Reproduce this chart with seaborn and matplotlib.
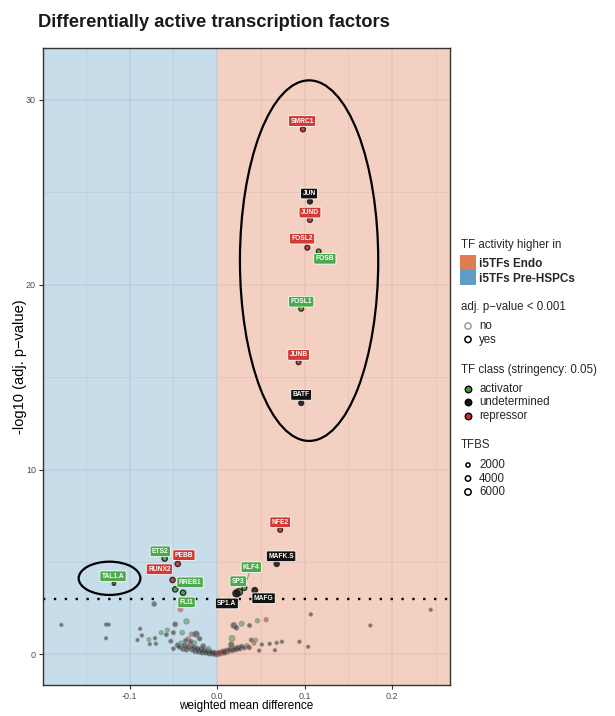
import pandas as pd
import matplotlib.pyplot as plt
import seaborn as sns
from matplotlib.patches import Ellipse, Rectangle

sns.set_theme(style='white')
plt.rcParams['font.family'] = ['Liberation Sans', 'DejaVu Sans']

# labelled (significant) TFs
tf_names = ['SMRC1', 'JUN', 'JUND', 'FOSL2', 'FOSB', 'FOSL1', 'JUNB', 'BATF',
            'NFE2', 'MAFK.S', 'KLF4', 'SP3', 'SP1.A', 'MAFG',
            'ETS2', 'PEBB', 'RUNX2', 'RREB1', 'FLI1', 'TAL1.A']
tf_wmd = [0.098, 0.106, 0.106, 0.103, 0.116, 0.096, 0.093, 0.096,
          0.072, 0.068, 0.031, 0.025, 0.022, 0.043,
          -0.060, -0.045, -0.051, -0.048, -0.039, -0.118]
tf_logp = [28.4, 24.5, 23.5, 22.0, 21.8, 18.7, 15.8, 13.6,
           6.74, 4.9, 3.6, 3.38, 3.3, 3.47,
           5.19, 4.9, 4.03, 3.52, 3.34, 3.83]
tf_class = ['repressor', 'undetermined', 'repressor', 'repressor', 'activator',
            'activator', 'repressor', 'undetermined',
            'repressor', 'undetermined', 'activator', 'activator', 'undetermined',
            'undetermined',
            'activator', 'repressor', 'repressor', 'activator', 'activator', 'activator']
tf_tfbs = [2500, 2600, 2400, 2400, 2200, 2400, 2200, 2500,
           2300, 2800, 2600, 5500, 7500, 3500,
           3200, 3000, 3000, 3000, 3200, 800]
# where each name tag sits
label_x = [0.097, 0.105, 0.106, 0.097, 0.123, 0.096, 0.093, 0.096,
           0.072, 0.073, 0.039, 0.024, 0.011, 0.053,
           -0.065, -0.038, -0.066, -0.031, -0.035, -0.119]
label_y = [28.85, 24.93, 23.9, 22.49, 21.4, 19.08, 16.2, 14.04,
           7.15, 5.31, 4.72, 3.96, 2.76, 3.04,
           5.58, 5.37, 4.61, 3.9, 2.82, 4.23]

# the remaining (non-significant) TFs
bg_wmd = [-0.178, -0.127, -0.124, -0.127, -0.072, -0.042, -0.088, -0.086, -0.091, -0.078,
          -0.077, -0.071, -0.070, -0.064, -0.057, -0.058, -0.050, -0.048, -0.035, -0.040,
          -0.029, -0.024, -0.020, -0.033, -0.053, -0.050, -0.045, -0.043, -0.041, -0.039,
          -0.037, -0.035, -0.033, -0.031, -0.029, -0.027, -0.025, -0.023, -0.021, -0.019,
          -0.017, -0.015, -0.013, -0.011, -0.009, -0.007, -0.005, -0.003, -0.001, -0.030,
          -0.026, -0.036, -0.016, -0.010,
          0.001, 0.003, 0.005, 0.007, 0.009, 0.011, 0.013, 0.015, 0.018, 0.020,
          0.022, 0.024, 0.026, 0.028, 0.031, 0.034, 0.036, 0.107, 0.244, 0.175,
          0.019, 0.022, 0.028, 0.037, 0.046, 0.056, 0.017, 0.039, 0.044, 0.042,
          0.051, 0.060, 0.068, 0.074, 0.094, 0.104, 0.066, 0.048, 0.037, 0.016]
bg_logp = [1.60, 1.62, 1.62, 0.88, 2.73, 2.44, 1.39, 1.03, 0.78, 0.81,
           0.56, 0.88, 0.58, 1.18, 1.32, 1.07, 1.18, 1.63, 1.79, 1.18,
           1.10, 1.10, 0.85, 0.85, 0.72, 0.31, 0.50, 0.40, 0.62, 0.30,
           0.48, 0.25, 0.40, 0.55, 0.28, 0.40, 0.20, 0.33, 0.16, 0.28,
           0.12, 0.22, 0.10, 0.18, 0.07, 0.13, 0.05, 0.09, 0.03, 0.70,
           0.62, 0.75, 0.45, 0.32,
           0.04, 0.10, 0.07, 0.16, 0.11, 0.22, 0.17, 0.28, 0.22, 0.33,
           0.27, 0.38, 0.31, 0.44, 0.36, 0.48, 0.40, 2.17, 2.42, 1.57,
           1.57, 1.44, 1.66, 1.57, 1.82, 1.88, 0.87, 0.78, 0.78, 0.60,
           0.54, 0.58, 0.63, 0.69, 0.69, 0.42, 0.23, 0.21, 0.36, 0.54]
# u = undetermined, a = activator, r = repressor
bg_class_code = ('uuuuuruuua' 'uuuaauuuaa' 'ruuruuuuau' 'uuur' 'uuuuuuuuuuuuuuu' 'uauua'
                 'ruruuuruuu' 'uuuuuauuuu' 'uuauarauar' 'uuuuuuuuru')
bg_tfbs = [900, 900, 900, 900, 2200, 2200, 900, 1000, 900, 1300,
           900, 1000, 900, 1500, 1600, 1500, 1600, 2500, 3200, 2200,
           2000, 4500, 2000, 1600, 1500, 1300, 2500, 2000, 1800, 2500,
           3000, 2000, 2500, 1800, 3000, 2200, 3500, 2500, 3000, 2500,
           3500, 3000, 2500, 3000, 3500, 2500, 3000, 2500, 3500, 1800,
           2000, 1800, 2500, 2000,
           3500, 3000, 3000, 2800, 3000, 2500, 2800, 2500, 2200, 2500,
           2000, 2200, 2000, 1800, 1800, 1600, 1500, 1000, 900, 900,
           3800, 2200, 2600, 1600, 1800, 1800, 3800, 1600, 1500, 1300,
           1000, 1000, 1000, 1000, 1000, 900, 900, 1000, 1200, 3200]

cls_full = {'u': 'undetermined', 'a': 'activator', 'r': 'repressor'}
bg_class = [cls_full[c] for c in bg_class_code]

pal = {'activator': '#3c9c34', 'undetermined': '#121212', 'repressor': '#cf2a2a'}
tag_col = {'activator': '#4caa4c', 'undetermined': '#111111', 'repressor': '#d23a36'}
endo_col = '#e07b54'
hspc_col = '#5f9ec4'

df = pd.DataFrame({
    'wmd': tf_wmd + bg_wmd,
    'logp': tf_logp + bg_logp,
    'cls': tf_class + bg_class,
    'tfbs': tf_tfbs + bg_tfbs,
})
df['sig'] = df['logp'] > 3

fig = plt.figure(figsize=(6.15, 7.16), dpi=100)
ax = fig.add_axes([43 / 615, 1 - 685 / 716, 407 / 615, 637 / 716])
xmin, xmax = -0.199, 0.266
ax.set_xlim(xmin, xmax)
ax.set_ylim(-1.65, 32.8)

ax.set_xticks([-0.1, 0.0, 0.1, 0.2])
ax.set_xticklabels(['-0.1', '0.0', '0.1', '0.2'])
ax.set_xticks([-0.15, -0.05, 0.05, 0.15, 0.25], minor=True)
ax.set_yticks([0, 10, 20, 30])
ax.set_yticks([5, 15, 25], minor=True)
ax.set_facecolor('white')
ax.grid(which='major', color='#ebebeb', lw=1.1)
ax.grid(which='minor', color='#ebebeb', lw=0.6)
ax.set_axisbelow(True)
ax.tick_params(which='major', length=3, width=0.8, color='#333333',
               labelsize=6.5, labelcolor='#4d4d4d', pad=2,
               bottom=True, left=True)
ax.tick_params(which='minor', length=0)
for s in ax.spines.values():
    s.set_color('#333333')
    s.set_linewidth(1.0)

ax.axvspan(xmin, 0, color=hspc_col, alpha=0.35, lw=0, zorder=1)
ax.axvspan(0, xmax, color=endo_col, alpha=0.35, lw=0, zorder=1)
ax.axhline(3, color='black', lw=1.7, ls=(0, (1, 3.6)), zorder=2)

size_kw = dict(size='tfbs', sizes=(2.5, 26), size_norm=(0, 6000))
sns.scatterplot(data=df[~df['sig']], x='wmd', y='logp', hue='cls', palette=pal,
                alpha=0.5, edgecolor='#7a7a7a', linewidth=0.9, legend=False,
                ax=ax, zorder=3, **size_kw)
sns.scatterplot(data=df[df['sig']], x='wmd', y='logp', hue='cls', palette=pal,
                alpha=0.85, edgecolor='#1a1a1a', linewidth=1.0, legend=False,
                ax=ax, zorder=4, **size_kw)

ax.add_patch(Ellipse((0.105, 21.3), 0.158, 19.5, fill=False, ec='black', lw=1.6, zorder=5))
ax.add_patch(Ellipse((-0.123, 4.12), 0.0705, 1.8, fill=False, ec='black', lw=1.6, zorder=5))

# KLF4 connector
ax.plot([0.037, 0.031], [4.43, 3.65], color='#8a8a8a', lw=0.7, zorder=5)

for name, lx, ly, c in zip(tf_names, label_x, label_y, tf_class):
    ax.text(lx, ly, name, ha='center', va='center', fontsize=4.8, color='white',
            fontweight='bold', zorder=6,
            bbox=dict(boxstyle='round,pad=0.28,rounding_size=0.2', fc=tag_col[c],
                      ec='white', lw=0.6))

ax.set_xlabel('weighted mean difference', fontsize=8.5, color='black')
ax.set_ylabel('-log10 (adj. p\u2212value)', fontsize=10.5, color='black')
ax.xaxis.set_label_coords(0.5, -0.024)
ax.yaxis.set_label_coords(-0.04, 0.5)

fig.text(38 / 615, 1 - 27 / 716, 'Differentially active transcription factors',
         fontsize=13.2, fontweight='bold', va='baseline', ha='left', color='#1a1a1a')

# legend drawn in pixel space
lax = fig.add_axes([0, 0, 1, 1], facecolor='none')
lax.set_xlim(0, 615)
lax.set_ylim(716, 0)
lax.axis('off')

kx, tx = 468, 479
lax.text(461, 245, 'TF activity higher in', fontsize=8.3, va='center')
lax.add_patch(Rectangle((460, 255), 16, 15, fc=endo_col, lw=0))
lax.add_patch(Rectangle((460, 270), 16, 15, fc=hspc_col, lw=0))
lax.text(tx, 264, 'i5TFs Endo', fontsize=8.5, fontweight='bold', va='center')
lax.text(tx, 278.5, 'i5TFs Pre-HSPCs', fontsize=8.5, fontweight='bold', va='center')

lax.text(461, 307, 'adj. p\u2212value < 0.001', fontsize=8.3, va='center')
lax.scatter([kx], [326], s=20, fc='none', ec='#9a9a9a', lw=1.1)
lax.scatter([kx], [339.5], s=20, fc='none', ec='black', lw=1.1)
lax.text(tx, 326, 'no', fontsize=8.3, va='center')
lax.text(tx, 339.5, 'yes', fontsize=8.3, va='center')

lax.text(461, 370, 'TF class (stringency: 0.05)', fontsize=8.3, va='center')
for yy, c in zip([388.5, 402, 415.5], ['activator', 'undetermined', 'repressor']):
    lax.scatter([kx], [yy], s=22, fc=pal[c], ec='black', lw=1.0)
    lax.text(tx, yy, c, fontsize=8.3, va='center')

lax.text(461, 445, 'TFBS', fontsize=8.3, va='center')
for yy, t, ss in zip([465, 478.5, 492], ['2000', '4000', '6000'], [9, 15, 21]):
    lax.scatter([kx], [yy], s=ss, fc='none', ec='black', lw=1.1)
    lax.text(tx, yy, t, fontsize=8.3, va='center')

fig.savefig('out.png', dpi=100)
